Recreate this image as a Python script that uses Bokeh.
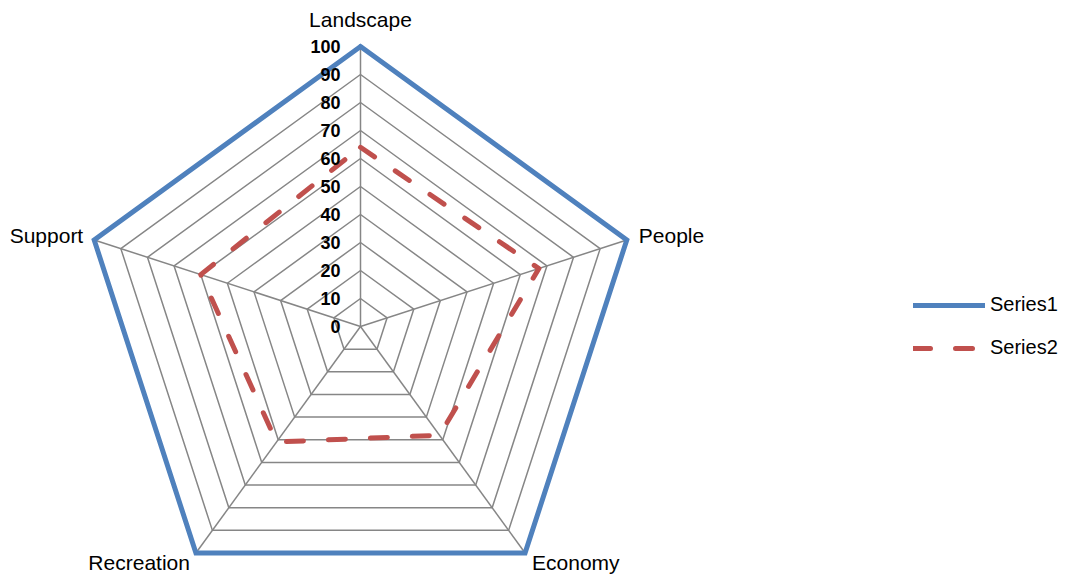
import numpy as np
from bokeh.plotting import figure
from bokeh.models import Legend, LegendItem, ColumnDataSource
from bokeh.core.properties import value
from bokeh.embed import file_html
from bokeh.resources import INLINE

# Radar chart data
categories = ["Landscape", "People", "Economy", "Recreation", "Support"]
series1 = [100, 100, 100, 100, 100]
series2 = [64, 67, 48, 51, 60]
tick_values = [0, 10, 20, 30, 40, 50, 60, 70, 80, 90, 100]
tick_labels = ["0", "10", "20", "30", "40", "50", "60", "70", "80", "90", "100"]

W, H = 1072, 574
CX, CY = 360, 326          # chart centre in pixels
SCALE = 2.8                # pixels per value unit

FONT_NAME = "Liberation Sans"
FONT = value(FONT_NAME)
GRID = "#868686"
BLUE = "#4F81BD"
RED = "#C0504D"

p = figure(width=W, height=H, output_backend="svg", toolbar_location=None,
           x_range=(-CX / SCALE, (W - CX) / SCALE),
           y_range=(-(H - CY) / SCALE, CY / SCALE),
           min_border=0, outline_line_color=None)
p.axis.visible = False
p.grid.visible = False
p.background_fill_color = "white"

n = len(categories)
angles = np.deg2rad(90 - 72 * np.arange(n))
ux, uy = np.cos(angles), np.sin(angles)


def polar(vals, extra=1):
    """Project values onto the spokes; repeat the first `extra` points to close."""
    v = np.asarray(vals, dtype=float)
    x, y = list(v * ux), list(v * uy)
    return x + x[:extra], y + y[:extra]


# concentric grid rings
for t in tick_values[1:]:
    gx, gy = polar([t] * n, extra=2)
    p.line(gx, gy, line_color=GRID, line_width=1.5)

# spokes
mx, my = polar(series1, extra=0)
p.segment(x0=[0] * n, y0=[0] * n, x1=mx, y1=my, line_color=GRID, line_width=1.5)

# series outlines
s1x, s1y = polar(series1, extra=2)
l1 = p.line(s1x, s1y, line_color=BLUE, line_width=5, line_join="miter",
            line_cap="round")
s2x, s2y = polar(series2, extra=1)
l2 = p.line(s2x, s2y, line_color=RED, line_width=5,
            line_dash="17 25", line_cap="round", line_join="round")

# radial tick labels along the Landscape axis
p.text(x=[0] * len(tick_values), y=tick_values, text=tick_labels,
       x_offset=-20, text_align="right", text_baseline="middle",
       text_font=FONT, text_font_size="18px", text_font_style="bold",
       text_color="black")

# category labels at the spoke ends
ex, ey = polar([100] * n, extra=0)
aligns = ["center", "left", "left", "right", "right"]
baselines = ["bottom", "middle", "middle", "middle", "middle"]
xoffs = [0, 12, 7, -6, -11]
yoffs = [-16, -4, 9, 9, -4]
src = ColumnDataSource(dict(x=ex, y=ey, text=categories, align=aligns,
                            base=baselines, xo=xoffs, yo=yoffs))
p.text(x="x", y="y", text="text", source=src, text_align="align",
       text_baseline="base", x_offset="xo", y_offset="yo",
       text_font=FONT, text_font_size="21px", text_color="black")

legend = Legend(items=[LegendItem(label="Series1", renderers=[l1]),
                       LegendItem(label="Series2", renderers=[l2])],
                location=(913, 215), orientation="vertical",
                glyph_width=72, glyph_height=20, label_height=20,
                label_standoff=5, spacing=20, padding=0, margin=0,
                border_line_alpha=0, background_fill_alpha=0,
                label_text_font=FONT_NAME, label_text_font_size="20px",
                label_text_color="black")
p.add_layout(legend, "center")

open("out.html", "w").write(file_html(p, INLINE))
